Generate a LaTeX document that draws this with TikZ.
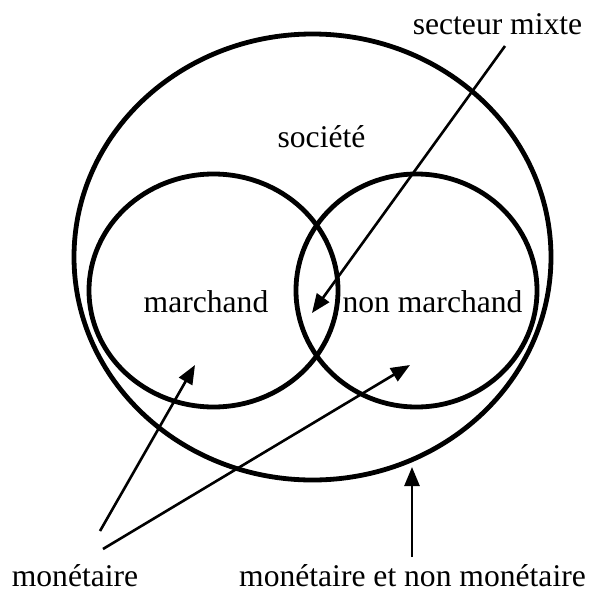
\documentclass[tikz,border=0pt]{standalone}
\usepackage{fontspec}
\setmainfont{Liberation Serif}
\usetikzlibrary{arrows.meta}
\begin{document}
\begin{tikzpicture}[x=1pt,y=-1pt,
  ring/.style={line width=4.8pt},
  pointer/.style={line width=2.6pt,-{Triangle[length=19pt,width=15pt]}},
  lbl/.style={anchor=base,inner sep=0pt,font=\fontsize{31.6}{38}\selectfont}]
\useasboundingbox (0,0) rectangle (591,592);
% shapes
\coordinate (soc) at (312.5,257);
\coordinate (mar) at (213.5,290.5);
\coordinate (nmar) at (416.5,290.5);
\draw[ring] (soc) ellipse [x radius=238.5, y radius=223];
\draw[ring] (mar) ellipse [x radius=124.5, y radius=116.5];
\draw[ring] (nmar) ellipse [x radius=120.5, y radius=116.5];
% labels
\node[lbl] (tmix) at (497.5,34) {secteur mixte};
\node[lbl] (tsoc) at (321.5,147) {société};
\node[lbl] (tmar) at (206,312) {marchand};
\node[lbl] (tnmar) at (432.5,312) {non marchand};
\node[lbl] (tmon) at (75,586) {monétaire};
\node[lbl] (tmnm) at (412.5,586) {monétaire et non monétaire};
% arrow ends
\coordinate (s0) at (505,46);
\coordinate (s1) at (312,313);
\coordinate (a0) at (100,531);
\coordinate (a1) at (195,365);
\coordinate (b0) at (103,549);
\coordinate (b1) at (410,365);
\coordinate (c0) at (412,557);
\coordinate (c1) at (412,467);
\draw[pointer] (s0) -- (s1);
\draw[pointer] (a0) -- (a1);
\draw[pointer] (b0) -- (b1);
\draw[pointer] (c0) -- (c1);
\end{tikzpicture}
\end{document}
